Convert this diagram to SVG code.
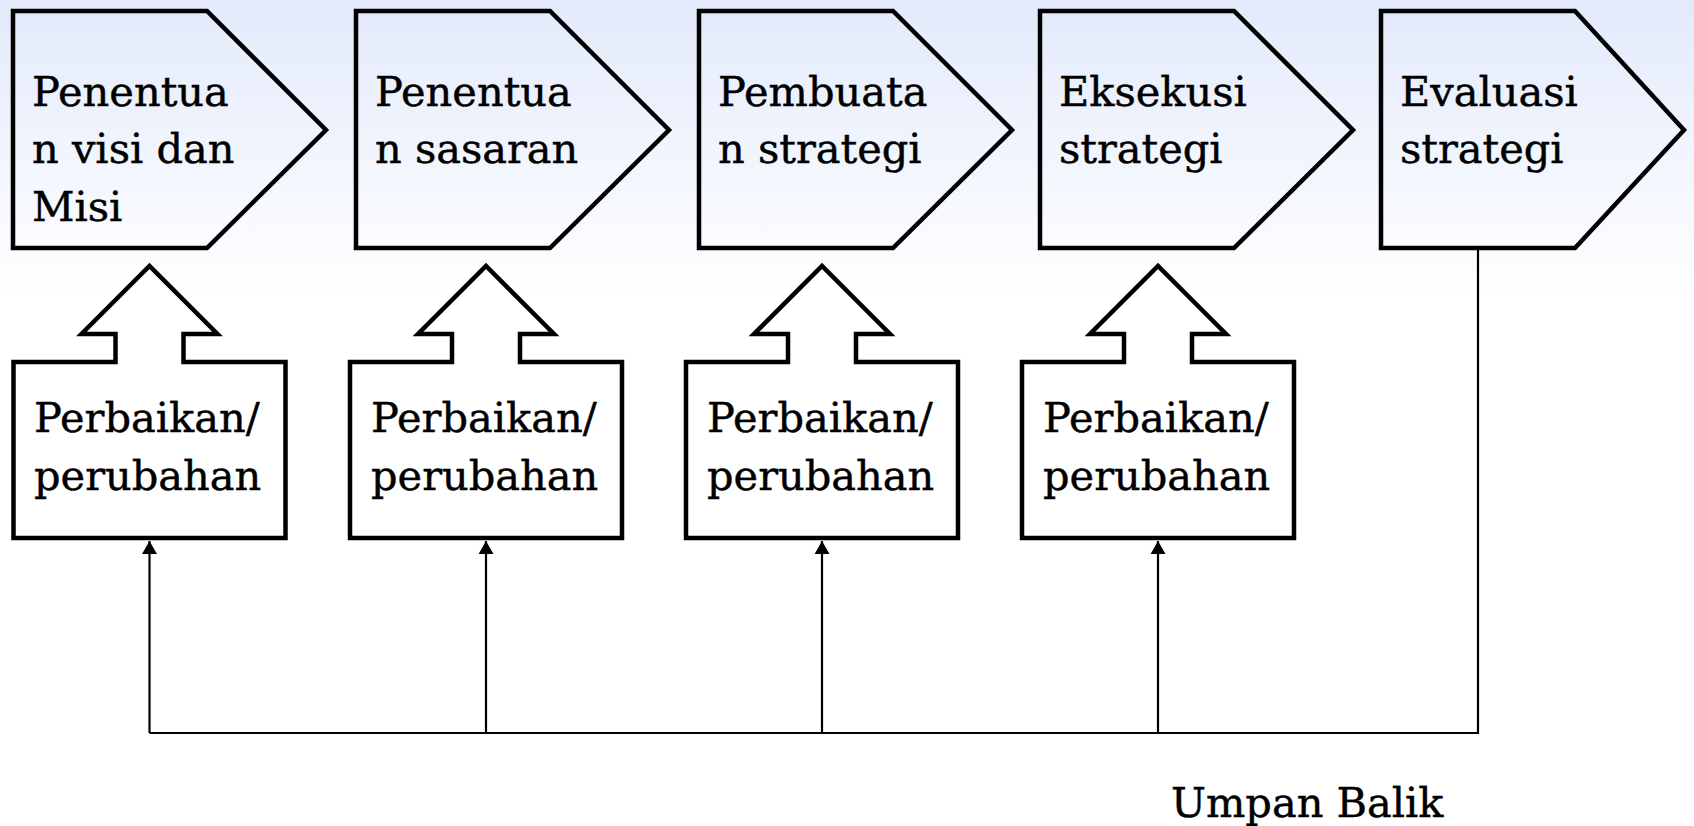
<svg xmlns="http://www.w3.org/2000/svg" width="1694" height="826" viewBox="0 0 1694 826">
  <defs>
    <linearGradient id="bg" x1="0" y1="0" x2="0" y2="826" gradientUnits="userSpaceOnUse">
      <stop offset="0" stop-color="#e2eafb"/>
      <stop offset="0.36" stop-color="#ffffff"/>
      <stop offset="1" stop-color="#ffffff"/>
    </linearGradient>
    <marker id="head" viewBox="0 0 13 15" refX="13" refY="7.5" markerWidth="13" markerHeight="15" markerUnits="userSpaceOnUse" orient="auto">
      <path d="M0,0 L13,7.5 L0,15 Z" fill="#000"/>
    </marker>
    <style>
      .stage { fill: none; stroke: #000; stroke-width: 4.5; stroke-linejoin: miter; }
      .fix { fill: #fff; stroke: #000; stroke-width: 4.5; stroke-linejoin: miter; }
      .lbl { font-family: "DejaVu Serif", "Liberation Serif", serif; font-size: 41.5px; fill: #000; stroke: #000; stroke-width: 0.45; }
      .link { fill: none; stroke: #000; stroke-width: 2.2; }
    </style>
  </defs>

  <rect x="0" y="0" width="1694" height="826" fill="url(#bg)"/>

  <!-- process stages -->
  <g id="stage-visi-misi">
    <path class="stage" d="M13,11 H207 L326,130 L207,248 H13 Z"/>
    <text class="lbl" x="32" y="106">Penentua</text>
    <text class="lbl" x="32" y="163">n visi dan</text>
    <text class="lbl" x="32" y="221">Misi</text>
  </g>
  <g id="stage-sasaran">
    <path class="stage" d="M356,11 H550 L669,130 L550,248 H356 Z"/>
    <text class="lbl" x="375" y="106">Penentua</text>
    <text class="lbl" x="375" y="163">n sasaran</text>
  </g>
  <g id="stage-pembuatan">
    <path class="stage" d="M699,11 H893 L1012,130 L893,248 H699 Z"/>
    <text class="lbl" x="718" y="106">Pembuata</text>
    <text class="lbl" x="718" y="163">n strategi</text>
  </g>
  <g id="stage-eksekusi">
    <path class="stage" d="M1040,11 H1234 L1353,130 L1234,248 H1040 Z"/>
    <text class="lbl" x="1059" y="106">Eksekusi</text>
    <text class="lbl" x="1059" y="163">strategi</text>
  </g>
  <g id="stage-evaluasi">
    <path class="stage" d="M1381,11 H1575 L1684,130 L1575,248 H1381 Z"/>
    <text class="lbl" x="1400" y="106">Evaluasi</text>
    <text class="lbl" x="1400" y="163">strategi</text>
  </g>

  <!-- correction callouts: box with an up-pointing block arrow -->
  <g id="fix-1">
    <path class="fix" d="M13.5,362 H115.5 V334 H81.5 L149.5,266 L217.5,334 H183.5 V362 H285.5 V538 H13.5 Z"/>
    <text class="lbl" x="34" y="432">Perbaikan/</text>
    <text class="lbl" x="34" y="490">perubahan</text>
  </g>
  <g id="fix-2">
    <path class="fix" d="M350,362 H452 V334 H418 L486,266 L554,334 H520 V362 H622 V538 H350 Z"/>
    <text class="lbl" x="371" y="432">Perbaikan/</text>
    <text class="lbl" x="371" y="490">perubahan</text>
  </g>
  <g id="fix-3">
    <path class="fix" d="M686,362 H788 V334 H754 L822,266 L890,334 H856 V362 H958 V538 H686 Z"/>
    <text class="lbl" x="707" y="432">Perbaikan/</text>
    <text class="lbl" x="707" y="490">perubahan</text>
  </g>
  <g id="fix-4">
    <path class="fix" d="M1022,362 H1124 V334 H1090 L1158,266 L1226,334 H1192 V362 H1294 V538 H1022 Z"/>
    <text class="lbl" x="1043" y="432">Perbaikan/</text>
    <text class="lbl" x="1043" y="490">perubahan</text>
  </g>

  <!-- feedback loop -->
  <g id="connectors">
    <polyline class="link" points="1478,248 1478,733 149.5,733"/>
    <line class="link" x1="149.5" y1="733" x2="149.5" y2="541" marker-end="url(#head)"/>
    <line class="link" x1="486" y1="733" x2="486" y2="541" marker-end="url(#head)"/>
    <line class="link" x1="822" y1="733" x2="822" y2="541" marker-end="url(#head)"/>
    <line class="link" x1="1158" y1="733" x2="1158" y2="541" marker-end="url(#head)"/>
  </g>

  <g id="feedback-label">
    <text class="lbl" x="1171" y="817">Umpan Balik</text>
  </g>
</svg>
